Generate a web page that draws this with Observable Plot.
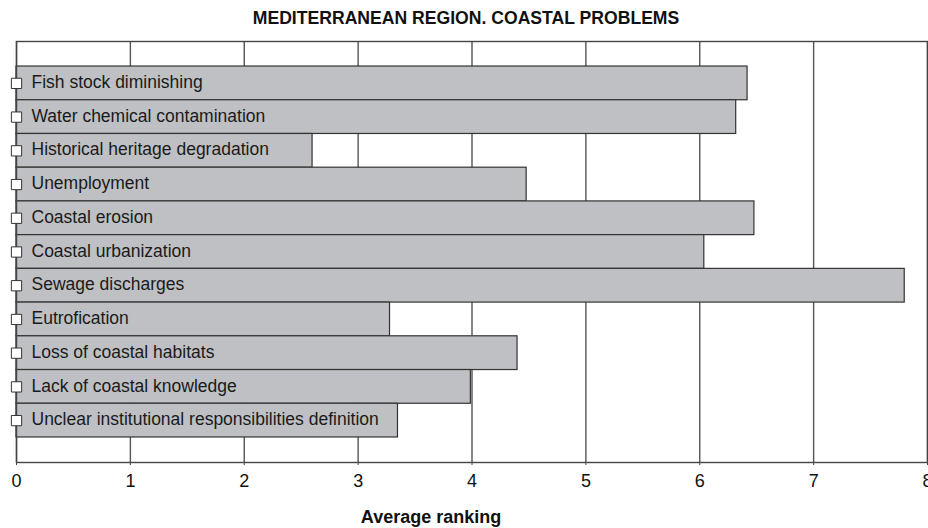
<!DOCTYPE html>
<html>
<head>
<meta charset="utf-8">
<script src="https://cdn.jsdelivr.net/npm/d3@7"></script>
<script src="https://cdn.jsdelivr.net/npm/@observablehq/plot@0.6"></script>
<style>
  html, body { margin: 0; padding: 0; background: #fff; }
  #chart svg { display: block; }
</style>
</head>
<body>
<div id="chart"></div>
<script>
const title = "MEDITERRANEAN REGION. COASTAL PROBLEMS";
const xLabel = "Average ranking";
const problems = [
  "Fish stock diminishing",
  "Water chemical contamination",
  "Historical heritage degradation",
  "Unemployment",
  "Coastal erosion",
  "Coastal urbanization",
  "Sewage discharges",
  "Eutrofication",
  "Loss of coastal habitats",
  "Lack of coastal knowledge",
  "Unclear institutional responsibilities definition"
];
const ranking = [6.42, 6.32, 2.60, 4.48, 6.48, 6.04, 7.80, 3.28, 4.40, 3.99, 3.35];
const xTicks = [0, 1, 2, 3, 4, 5, 6, 7, 8];

const data = problems.map((p, i) => ({problem: p, value: ranking[i]}));
const font = "'Liberation Sans', Arial, Helvetica, sans-serif";

const chart = Plot.plot({
  width: 928,
  height: 528,
  marginTop: 41,
  marginBottom: 66,
  marginLeft: 16,
  marginRight: 1,
  style: {fontFamily: font, color: "#222", background: "#fff"},
  x: {domain: [0, 8], ticks: xTicks},
  y: {domain: problems, paddingInner: 0, paddingOuter: 0.742, round: false, axis: null},
  marks: [
    Plot.ruleX(xTicks, {stroke: "#555", strokeWidth: 1.4}),
    Plot.barX(data, {x: "value", y: "problem", fill: "#bfc0c3", stroke: "#333", strokeWidth: 1.2}),
    Plot.frame({stroke: "#444", strokeWidth: 1.4}),
    Plot.dot(data, {x: d => 0, y: "problem", symbol: "square", r: 5.8, fill: "#fff", stroke: "#333", strokeWidth: 1}),
    Plot.text(data, {x: d => 0, y: "problem", text: "problem", textAnchor: "start", dx: 15, dy: -1, fontSize: 17.5, fill: "#1a1a1a"}),
    Plot.axisX({ticks: xTicks, tickSize: 3, tickPadding: 9, fontSize: 18, label: null, stroke: "#444", fill: "#111", tickFormat: d3.format("d")}),
    Plot.text([xLabel], {frameAnchor: "bottom", dx: -41, dy: 60, fontSize: 18, fontWeight: "bold", fill: "#111"}),
    Plot.text([title], {frameAnchor: "top", dx: -6, dy: -30, fontSize: 17.6, fontWeight: "bold", fill: "#111"})
  ]
});
document.getElementById("chart").appendChild(chart);
</script>
</body>
</html>
